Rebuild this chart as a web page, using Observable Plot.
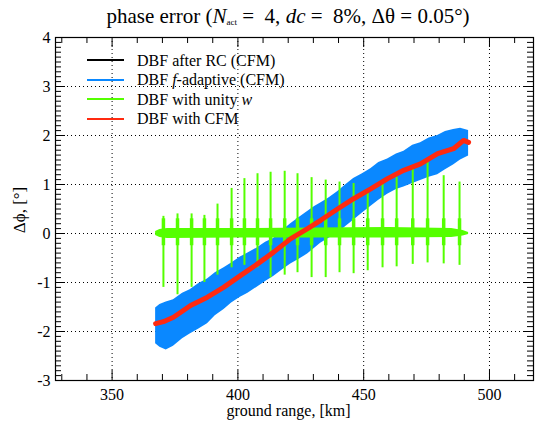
<!DOCTYPE html>
<html>
<head>
<meta charset="utf-8">
<script src="https://cdn.jsdelivr.net/npm/d3@7"></script>
<script src="https://cdn.jsdelivr.net/npm/@observablehq/plot@0.6"></script>
<style>
  body { margin: 0; background: #fff; }
  #wrap { position: relative; width: 541px; height: 423px; font-family: "Liberation Serif", "Times New Roman", serif; color: #000; }
  #title { position: relative; height: 27px; width: 541px; }
  #title span { position: absolute; left: 0; width: 541px; padding-left: 35px; box-sizing: border-box; top: 6px; text-align: center; font-size: 21px; line-height: 21px; white-space: nowrap; }
  #title sub { font-size: 9px; vertical-align: -2px; line-height: 0; }
  .lg-line { position: absolute; width: 37px; height: 2px; }
  .lg-text { position: absolute; font-size: 16px; line-height: 20px; white-space: nowrap; font-family: "Liberation Serif", serif; }
  svg { display: block; }
  svg text { font-family: "Liberation Serif", "Times New Roman", serif; }
</style>
</head>
<body>
<div id="wrap">
  <div id="title"><span>phase error (<i>N</i><sub>act</sub> =&nbsp; 4, <i>dc</i> =&nbsp; 8%, Δθ = 0.05°)</span></div>
  <div id="chart"></div>
</div>
<script>
// ---------- data ----------
const xMajor = [350, 400, 450, 500];
const xMinor = [330, 340, 360, 370, 380, 390, 410, 420, 430, 440, 460, 470, 480, 490, 510];
const yMajor = [-3, -2, -1, 0, 1, 2, 3, 4];
const yGrid = [-2, -1, 0, 1, 2, 3];

// DBF f-adaptive (CFM): envelope of the fast oscillation
const blueKm = [367.3, 369.0, 371.5, 374.4, 378.0, 381.0, 384.5, 387.9, 391.0, 394.5, 397.5, 401.0, 404.0, 407.5, 411.0, 414.2, 417.5, 421.0, 424.5, 427.7, 430.5, 432.9, 436.0, 439.6, 443.0, 446.0, 449.5, 452.8, 456.0, 459.5, 463.0, 466.0, 469.5, 472.6, 476.0, 479.4, 482.5, 485.7, 488.5, 491.7];
const blueHi = [-1.52, -1.45, -1.4, -1.35, -1.22, -1.15, -1.02, -0.93, -0.8, -0.7, -0.6, -0.48, -0.4, -0.3, -0.18, -0.1, 0.05, 0.2, 0.33, 0.45, 0.55, 0.62, 0.72, 0.85, 1.0, 1.12, 1.22, 1.32, 1.45, 1.52, 1.62, 1.68, 1.8, 1.85, 1.95, 2.0, 2.08, 2.12, 2.15, 2.1];
const blueLo = [-2.25, -2.32, -2.38, -2.3, -2.15, -2.05, -1.95, -1.84, -1.68, -1.55, -1.42, -1.3, -1.22, -1.1, -0.98, -0.88, -0.75, -0.62, -0.52, -0.42, -0.3, -0.2, -0.1, 0.0, 0.15, 0.27, 0.42, 0.55, 0.68, 0.8, 0.9, 0.95, 1.02, 1.08, 1.15, 1.2, 1.3, 1.4, 1.5, 1.58];

// DBF with unity w: base band and periodic spikes
const greenBandKm = [367.3, 369.0, 372.0, 400.0, 430.0, 460.0, 485.0, 489.5, 491.7];
const greenBandHi = [0.04, 0.08, 0.1, 0.1, 0.11, 0.12, 0.1, 0.06, 0.02];
const greenBandLo = [-0.04, -0.08, -0.1, -0.09, -0.09, -0.09, -0.08, -0.05, -0.02];
const spikeKm = [370.4, 376.0, 381.6, 386.7, 391.9, 397.5, 402.6, 407.8, 413.0, 418.6, 423.7, 429.3, 434.9, 440.4, 446.0, 451.6, 457.5, 463.1, 469.5, 475.4, 481.8, 488.1];
const spikeUp = [0.35, 0.4, 0.4, 0.37, 0.6, 0.92, 1.12, 1.22, 1.25, 1.27, 1.22, 1.14, 1.09, 1.05, 1.02, 0.91, 1.0, 1.15, 1.35, 1.45, 1.18, 1.05];
const spikeDown = [-1.1, -1.25, -1.1, -1.0, -0.85, -0.7, -0.65, -0.7, -0.9, -0.85, -0.8, -0.9, -0.9, -0.8, -0.82, -0.76, -0.7, -0.68, -0.63, -0.6, -0.62, -0.65];

// DBF with CFM
const redKm = [367.3, 370.4, 374.4, 381.2, 387.9, 394.3, 401.0, 407.8, 414.2, 420.9, 427.7, 432.9, 439.6, 446.0, 452.8, 459.5, 465.9, 472.6, 479.4, 485.7, 489.7, 491.7];
const redVal = [-1.84, -1.8, -1.71, -1.47, -1.3, -1.1, -0.86, -0.62, -0.38, -0.11, 0.1, 0.27, 0.5, 0.71, 0.91, 1.12, 1.29, 1.42, 1.63, 1.73, 1.9, 1.86];

const legendLabels = ["DBF after RC (CFM)", "DBF <i>f</i>-adaptive (CFM)", "DBF with unity <i>w</i>", "DBF with CFM"];

// ---------- styling ----------
const FONT = "Liberation Serif, Times New Roman, serif";
const C_BLACK = "#000000", C_BLUE = "#0a88ff", C_GREEN = "#55ff00", C_RED = "#ff2a10";
const legendColors = [C_BLACK, C_BLUE, C_GREEN, C_RED];

const W = 541, H = 396, mT = 10, mB = 43, mL = 55, mR = 8;
const fH = H - mT - mB, fW = W - mL - mR;

const yMinor = d3.range(-30, 41).map(v => v / 10).filter(v => Math.abs(v - Math.round(v)) > 1e-6);

const blueRows = blueKm.map((k, i) => ({k, lo: blueLo[i], hi: blueHi[i]}));
const bandRows = greenBandKm.map((k, i) => ({k, lo: greenBandLo[i], hi: greenBandHi[i]}));
const spikeRows = spikeKm.map((k, i) => ({k, up: spikeUp[i], down: spikeDown[i]}));
const redRows = redKm.map((k, i) => ({k, v: redVal[i]}));

const dots = {stroke: "black", strokeWidth: 1, strokeDasharray: "1,3"};

const chart = Plot.plot({
  width: W, height: H,
  marginTop: mT, marginBottom: mB, marginLeft: mL, marginRight: mR,
  x: {domain: [327.5, 517.5]},
  y: {domain: [-3, 4]},
  style: {fontFamily: FONT, fontSize: "16px", color: "black", background: "white"},
  marks: [
    Plot.ruleX(xMajor, {x: d => d, ...dots}),
    Plot.ruleY(yGrid, {y: d => d, ...dots}),
    Plot.areaY(blueRows, {x: "k", y1: "lo", y2: "hi", fill: C_BLUE}),
    Plot.areaY(bandRows, {x: "k", y1: "lo", y2: "hi", fill: C_GREEN}),
    Plot.ruleX(spikeRows, {x: "k", y1: "down", y2: "up", stroke: C_GREEN, strokeWidth: 2}),
    Plot.ruleX(spikeRows, {x: "k", y1: -0.25, y2: 0.3, stroke: C_GREEN, strokeWidth: 3.5}),
    Plot.line(redRows, {x: "k", y: "v", stroke: C_RED, strokeWidth: 5, strokeLinejoin: "round"}),
    // inward ticks
    Plot.tickX(xMinor, {x: d => d, insetTop: fH - 6, stroke: "black"}),
    Plot.tickX(xMinor, {x: d => d, insetBottom: fH - 6, stroke: "black"}),
    Plot.tickX(xMajor, {x: d => d, insetTop: fH - 10, stroke: "black"}),
    Plot.tickX(xMajor, {x: d => d, insetBottom: fH - 10, stroke: "black"}),
    Plot.tickY(yMinor, {y: d => d, insetRight: fW - 6, stroke: "black"}),
    Plot.tickY(yMinor, {y: d => d, insetLeft: fW - 6, stroke: "black"}),
    Plot.tickY(yMajor, {y: d => d, insetRight: fW - 10, stroke: "black"}),
    Plot.tickY(yMajor, {y: d => d, insetLeft: fW - 10, stroke: "black"}),
    Plot.frame({stroke: "black", strokeWidth: 1.2}),
    Plot.axisX(xMajor, {anchor: "bottom", tickSize: 0, tickPadding: 8, label: null, fontSize: 16, fontFamily: FONT, tickFormat: d => String(d)}),
    Plot.axisY(yMajor, {anchor: "left", tickSize: 0, tickPadding: 5, label: null, fontSize: 16, fontFamily: FONT, tickFormat: d => String(d)}),
    Plot.text(["ground range, [km]"], {frameAnchor: "bottom", dx: -6, dy: 35, fontSize: 16, fontFamily: FONT, text: d => d}),
    Plot.text(["Δϕ, [°]"], {frameAnchor: "left", textAnchor: "middle", dx: -36, dy: 1, rotate: -90, fontSize: 17, fontFamily: FONT, text: d => d})
  ]
});
document.getElementById("chart").appendChild(chart);

// legend (inside the plot frame, top-left)
const wrap = document.getElementById("wrap");
const rowY = [60, 79.5, 99, 118.5];
legendLabels.forEach((lab, i) => {
  const ln = document.createElement("div");
  ln.className = "lg-line";
  ln.style.left = "87px"; ln.style.top = (rowY[i] - 1) + "px"; ln.style.background = legendColors[i];
  wrap.appendChild(ln);
  const tx = document.createElement("div");
  tx.className = "lg-text";
  tx.style.left = "137px"; tx.style.top = (rowY[i] - 9.5) + "px";
  tx.innerHTML = lab;
  wrap.appendChild(tx);
});
</script>
</body>
</html>
